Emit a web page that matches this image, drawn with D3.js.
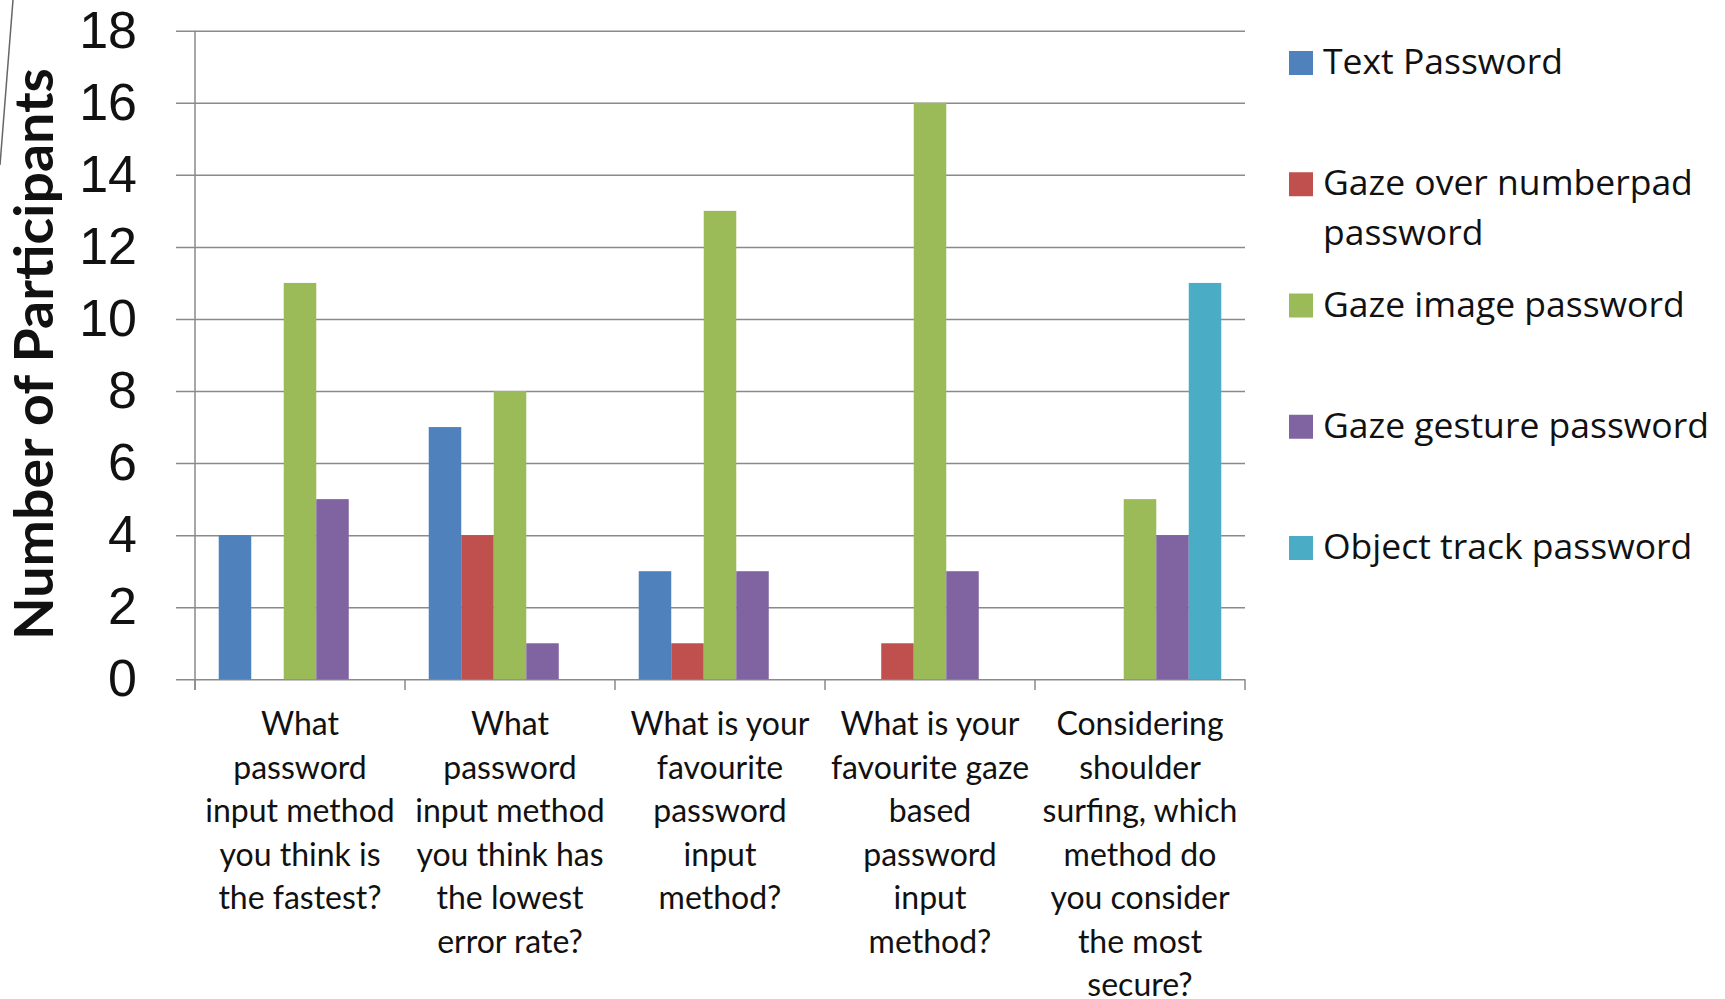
<!DOCTYPE html>
<html>
<head>
<meta charset="utf-8">
<script src="https://cdn.jsdelivr.net/npm/d3@7/dist/d3.min.js"></script>
<style>
  html, body { margin: 0; padding: 0; background: #fff; }
  svg { display: block; }
</style>
</head>
<body>
<div id="chart"></div>
<script>
// categories (questions), wrapped as in the original slide
var questions = [
    ["What", "password", "input method", "you think is", "the fastest?"],
    ["What", "password", "input method", "you think has", "the lowest", "error rate?"],
    ["What is your", "favourite", "password", "input", "method?"],
    ["What is your", "favourite gaze", "based", "password", "input", "method?"],
    ["Considering", "shoulder", "surfing, which", "method do", "you consider", "the most", "secure?"]
];

// series
var seriesNames = ["Text Password", "Gaze over numberpad password", "Gaze image password", "Gaze gesture password", "Object track password"];
var legendLines = [["Text Password"], ["Gaze over numberpad", "password"], ["Gaze image password"], ["Gaze gesture password"], ["Object track password"]];
var colors = ["#4f81bd", "#c0504d", "#9bbb59", "#8064a2", "#4bacc6"];

var textPassword      = [4, 7, 3, 0, 0];
var numberpadPassword = [0, 4, 1, 1, 0];
var imagePassword     = [11, 8, 13, 16, 5];
var gesturePassword   = [5, 1, 3, 3, 4];
var objectPassword    = [0, 0, 0, 0, 11];

var yTicks = [0, 2, 4, 6, 8, 10, 12, 14, 16, 18];

var values = [textPassword, numberpadPassword, imagePassword, gesturePassword, objectPassword];

var W = 1725, H = 999;
var plotLeft = 195, plotRight = 1245, plotTop = 30.7, plotBottom = 679.3;

var svg = d3.select("#chart").append("svg")
    .attr("width", W)
    .attr("height", H);

// thin slide decoration at top-left
svg.append("line")
    .attr("x1", 13).attr("y1", 0)
    .attr("x2", 0).attr("y2", 165)
    .attr("stroke", "#666")
    .attr("stroke-width", 1.5);

var qIndex = d3.range(questions.length);

var x0 = d3.scaleBand()
    .domain(qIndex)
    .range([plotLeft, plotRight])
    .paddingInner(0)
    .paddingOuter(0);

var x1 = d3.scaleBand()
    .domain(d3.range(seriesNames.length))
    .range([0, x0.bandwidth()])
    .paddingInner(0)
    .paddingOuter(0.73);

var y = d3.scaleLinear()
    .domain([0, 18])
    .range([plotBottom, plotTop]);

// gridlines + tick labels
var gridAxis = d3.axisLeft(y)
    .tickValues(yTicks)
    .tickSizeInner(plotRight - 176)
    .tickSizeOuter(0)
    .tickPadding(39);

var gy = svg.append("g")
    .attr("transform", "translate(" + plotRight + ",0)")
    .call(gridAxis);
gy.select(".domain").remove();
gy.selectAll(".tick line")
    .attr("stroke", "#8a8a8a")
    .attr("stroke-width", 1.5);
gy.selectAll(".tick text")
    .attr("font-family", "Liberation Sans, Arial, sans-serif")
    .attr("font-size", 52)
    .attr("fill", "#111");

// bars
var groups = svg.append("g").selectAll("g")
    .data(qIndex)
    .enter().append("g")
    .attr("transform", function(q) { return "translate(" + x0(q) + ",0)"; });

groups.selectAll("rect")
    .data(function(q) {
        return values.map(function(v, s) { return {s: s, v: v[q]}; })
            .filter(function(d) { return d.v > 0; });
    })
    .enter().append("rect")
    .attr("x", function(d) { return x1(d.s); })
    .attr("y", function(d) { return y(d.v); })
    .attr("width", x1.bandwidth())
    .attr("height", function(d) { return y(0) - y(d.v); })
    .attr("fill", function(d) { return colors[d.s]; });

// axis lines
svg.append("line")
    .attr("x1", plotLeft).attr("x2", plotLeft)
    .attr("y1", plotTop).attr("y2", 690)
    .attr("stroke", "#8a8a8a").attr("stroke-width", 1.5);

var boundaries = qIndex.map(function(q) { return x0(q); }).concat([plotRight]);
svg.append("g").selectAll("line")
    .data(boundaries)
    .enter().append("line")
    .attr("x1", function(d) { return d; }).attr("x2", function(d) { return d; })
    .attr("y1", plotBottom).attr("y2", 690)
    .attr("stroke", "#8a8a8a").attr("stroke-width", 1.5);

// category labels
var catG = svg.append("g")
    .attr("font-family", "Lato, sans-serif")
    .attr("font-size", 32)
    .attr("fill", "#111")
    .attr("text-anchor", "middle");

catG.selectAll("text")
    .data(qIndex)
    .enter().append("text")
    .attr("x", function(q) { return x0(q) + x0.bandwidth() / 2; })
    .attr("y", 735)
    .each(function(q) {
        var t = d3.select(this);
        questions[q].forEach(function(line, i) {
            t.append("tspan")
                .attr("x", x0(q) + x0.bandwidth() / 2)
                .attr("dy", i === 0 ? 0 : 43.5)
                .text(line);
        });
    });

// y axis title
svg.append("text")
    .attr("transform", "translate(53,640) rotate(-90)")
    .attr("font-family", "Lato, sans-serif")
    .attr("font-weight", "bold")
    .attr("font-size", 53)
    .attr("fill", "#111")
    .attr("textLength", 572)
    .attr("lengthAdjust", "spacingAndGlyphs")
    .text("Number of Participants");

// legend
var legend = svg.append("g")
    .attr("font-family", "Open Sans, sans-serif")
    .attr("font-size", 35.5)
    .attr("fill", "#111");

var legendY = d3.scaleLinear().domain([0, 4]).range([74, 559]);

var items = legend.selectAll("g")
    .data(d3.range(seriesNames.length))
    .enter().append("g")
    .attr("transform", function(i) { return "translate(1289," + legendY(i) + ")"; });

items.append("rect")
    .attr("x", 0).attr("y", -23)
    .attr("width", 24).attr("height", 24)
    .attr("fill", function(i) { return colors[i]; });

items.append("text")
    .attr("x", 34)
    .attr("y", 0)
    .each(function(i) {
        var t = d3.select(this);
        legendLines[i].forEach(function(line, k) {
            t.append("tspan")
                .attr("x", 34)
                .attr("dy", k === 0 ? 0 : 49.5)
                .text(line);
        });
    });
</script>
</body>
</html>
